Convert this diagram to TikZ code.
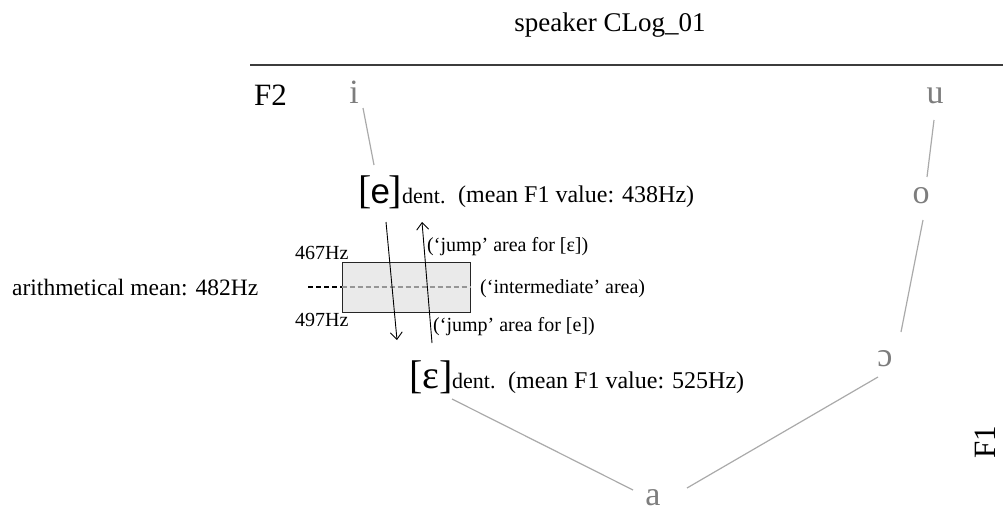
\documentclass[tikz,border=0pt]{standalone}
\usepackage{fontspec}
\setmainfont{Liberation Serif}
\newfontfamily\sansfam{Liberation Sans}
\usetikzlibrary{arrows.meta,calc}
\definecolor{vgray}{RGB}{125,125,125}
\definecolor{lgray}{RGB}{170,170,170}
\definecolor{boxfill}{RGB}{234,234,234}
\definecolor{rulegray}{RGB}{60,60,60}
\definecolor{dashgray}{RGB}{150,150,150}
\newcommand{\pxsize}[1]{\fontsize{#1}{#1}\selectfont}
\tikzset{
  title/.style={font=\pxsize{27}, inner sep=0pt, anchor=base},
  axislab/.style={font=\pxsize{31}, inner sep=0pt},
  vowel/.style={text=vgray, font=\pxsize{34}, inner sep=0pt, anchor=base},
  bigv/.style={font=\pxsize{40}, inner sep=0pt, anchor=base west},
  dentlab/.style={font=\pxsize{22}, inner sep=0pt, anchor=base west},
  meanlab/.style={font=\pxsize{24}, inner sep=0pt, anchor=base west},
  smalllab/.style={font=\pxsize{20}, inner sep=0pt, anchor=base west},
  vline/.style={draw=lgray, line width=1.2pt},
  arr/.style={draw=black, line width=0.9pt, -{Straight Barb[length=7pt,width=12pt]}},
  areabox/.style={draw=black!85, fill=boxfill, line width=1pt, minimum width=128pt, minimum height=50pt, inner sep=0pt},
}
\begin{document}
\begin{tikzpicture}[x=1pt,y=-1pt]
\useasboundingbox (0,0) rectangle (1003,527);
% title and rule
\node[title] (title) at (610,32) {speaker CLog\_01};
\draw[rulegray, line width=2.5pt] (250,65) -- (1003,65);
% axis labels
\node[axislab, anchor=base west] (F2) at (254,105) {F2};
\node[axislab, rotate=90] (F1) at (985,442) {F1};
% vowels
\node[vowel] (i) at (354,103) {i};
\node[vowel] (u) at (935,103) {u};
\node[vowel] (o) at (921,203) {o};
\node[vowel] (oo) at (885,366) {ɔ};
\node[vowel] (a) at (653,505) {a};
% [e] and [epsilon] labels
\node[bigv] (e) at (358,203) {[\kern-1pt{\sansfam\pxsize{35}e}\kern-1pt]};
\node[dentlab] (edent) at (402,203) {dent.};
\node[meanlab] (emean) at (458,202) {(mean F1 value: 438Hz)};
\node[bigv] (eps) at (409,388) {[ε]};
\node[dentlab] (epsdent) at (452,388) {dent.};
\node[meanlab] (epsmean) at (508,388) {(mean F1 value: 525Hz)};
% box and mean line
\node[areabox] (box) at (406,287) {};
\coordinate (mstart) at (308,287);
\draw[black, line width=1.6pt, dash pattern=on 5pt off 3pt] (mstart) -- (box.west);
\draw[dashgray, line width=1.6pt, dash pattern=on 5pt off 3pt] (box.west) -- (box.east);
% small labels
\node[smalllab] (hz467) at (295,259) {467Hz};
\node[smalllab] (hz497) at (295,326) {497Hz};
\node[meanlab, font=\pxsize{23.5}] (amean) at (12,295) {arithmetical mean: 482Hz};
\node[smalllab] (inter) at (480,293) {(‘intermediate’ area)};
\node[smalllab] (jumpeps) at (427,251) {(‘jump’ area for [ε])};
\node[smalllab] (jumpe) at (433,331) {(‘jump’ area for [e])};
% arrows
\coordinate (d1) at (386,222);
\coordinate (d2) at (397,340);
\coordinate (u1) at (432,343);
\coordinate (u2) at (422,222);
\draw[arr] (d1) -- (d2);
\draw[arr] (u1) -- (u2);
% vowel lines
\draw[vline] ($(i.base)+(9,5)$) -- ($(e.base west)+(16,-38)$);
\draw[vline] ($(u.base)+(-1,17)$) -- ($(o.base)+(6,-26)$);
\draw[vline] ($(o.base)+(2,17)$) -- ($(oo.base)+(16,-34)$);
\draw[vline] ($(oo.base)+(-7,11)$) -- ($(a.base)+(34,-17)$);
\draw[vline] ($(eps.base west)+(43,11)$) -- ($(a.base)+(-20,-15)$);
\end{tikzpicture}
\end{document}
